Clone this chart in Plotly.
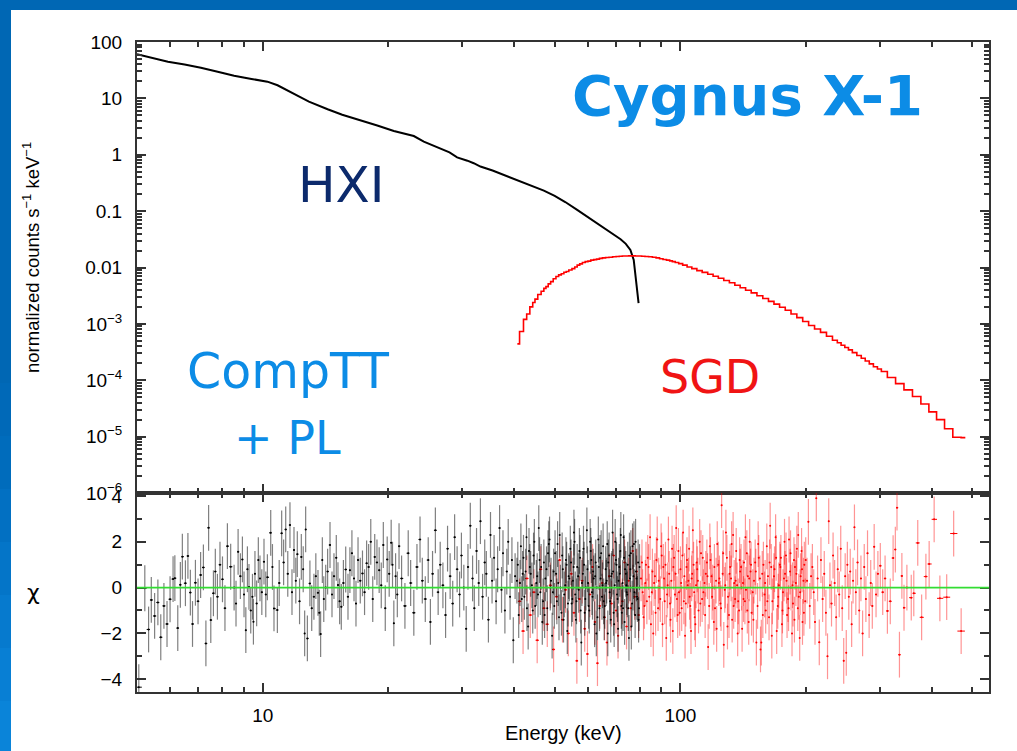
import numpy as np
import plotly.graph_objects as go
from plotly.subplots import make_subplots

W, H = 1017, 751

# ---- folded model spectra (keV, normalized counts s^-1 keV^-1) ----
hxi_energy = [5.0, 5.5, 5.93, 6.5, 7.11, 7.8, 8.54, 9.4, 10.26, 10.85,
              11.3, 11.67, 12.3, 12.9, 13.6, 14.3, 15.5, 17.1, 18.8, 20.6,
              21.8, 23.0, 24.3, 25.5, 26.7, 28.0, 29.2, 30.0, 30.9, 32.0,
              33.2, 35.5, 37.8, 39.5, 41.4, 44.0, 47.1, 50.0, 53.0, 56.6,
              60.5, 64.5, 68.0, 71.9, 74.0, 75.9, 77.3, 78.0, 79.4]
hxi_counts = [60.5, 51.5, 44.8, 39.8, 35.0, 29.6, 25.2, 22.1, 19.8, 17.1,
              14.5, 12.6, 10.5, 8.75, 7.41, 6.41, 5.13, 4.14, 3.31, 2.64,
              2.34, 2.15, 1.71, 1.48, 1.30, 1.10, 0.90, 0.83, 0.785, 0.708,
              0.617, 0.525, 0.439, 0.389, 0.333, 0.282, 0.231, 0.186, 0.145, 0.105,
              0.0759, 0.0547, 0.0427, 0.0317, 0.0263, 0.0205, 0.0136, 0.0069, 0.00233]

sgd_energy = [40.7, 41.7, 42.5, 43.2, 44.0, 44.6, 45.1, 46.0, 46.8, 47.4,
              47.9, 48.6, 49.2, 50.0, 50.7, 51.5, 52.2, 53.0, 53.6, 54.5,
              55.5, 56.2, 57.0, 57.8, 58.7, 59.6, 60.5, 61.5, 62.5, 63.5,
              64.5, 65.6, 66.8, 68.1, 69.5, 70.8, 72.0, 73.2, 74.5, 75.9,
              77.3, 78.6, 80.0, 81.5, 83.0, 84.8, 86.6, 88.3, 90.0, 91.7,
              93.5, 95.0, 96.3, 98.1, 100, 102.5, 105, 108, 111, 114.5,
              118, 121.5, 125, 129, 133, 137, 141, 145.5, 150, 155,
              160, 165, 170, 175.5, 181, 187, 193, 199.5, 206, 213,
              220, 227.5, 235, 240, 245, 250, 255, 261, 268, 274,
              280, 286.5, 293, 299.5, 306, 320, 335, 351, 368, 385,
              402, 419, 439, 459, 481]
sgd_counts = [4.42e-4, 7.31e-4, 1.20e-3, 1.50e-3, 2.00e-3, 2.40e-3, 2.75e-3, 3.31e-3, 3.80e-3, 4.27e-3,
              4.57e-3, 5.13e-3, 5.62e-3, 6.31e-3, 6.92e-3, 7.41e-3, 7.76e-3, 8.22e-3, 8.51e-3, 9.02e-3,
              9.55e-3, 1.02e-2, 1.10e-2, 1.16e-2, 1.23e-2, 1.27e-2, 1.30e-2, 1.35e-2, 1.38e-2, 1.41e-2,
              1.45e-2, 1.48e-2, 1.50e-2, 1.52e-2, 1.55e-2, 1.57e-2, 1.58e-2, 1.60e-2, 1.60e-2, 1.61e-2,
              1.61e-2, 1.60e-2, 1.60e-2, 1.58e-2, 1.57e-2, 1.55e-2, 1.52e-2, 1.48e-2, 1.43e-2, 1.39e-2,
              1.35e-2, 1.31e-2, 1.27e-2, 1.23e-2, 1.17e-2, 1.10e-2, 1.02e-2, 9.55e-3, 8.81e-3, 8.18e-3,
              7.59e-3, 7.00e-3, 6.46e-3, 5.89e-3, 5.37e-3, 4.84e-3, 4.37e-3, 3.94e-3, 3.55e-3, 3.16e-3,
              2.82e-3, 2.51e-3, 2.24e-3, 1.97e-3, 1.74e-3, 1.50e-3, 1.29e-3, 1.10e-3, 9.33e-4, 8.13e-4,
              7.08e-4, 6.03e-4, 5.13e-4, 4.62e-4, 4.17e-4, 3.80e-4, 3.46e-4, 3.09e-4, 2.75e-4, 2.45e-4,
              2.19e-4, 1.95e-4, 1.74e-4, 1.58e-4, 1.43e-4, 1.12e-4, 8.71e-5, 6.76e-5, 5.14e-5, 3.80e-5,
              2.75e-5, 2.00e-5, 1.38e-5, 9.77e-6, 9.6e-6]

# ---- residuals (keV, chi) ----
hxi_resid = [
    (5.05, -4.35), (5.22, -0.03), (5.33, -1.83), (5.41, -0.54), (5.51, -1.24), (5.61, -0.65),
    (5.70, -2.17), (5.80, -0.80), (5.90, -1.59), (6.00, -0.51), (6.10, 0.37), (6.16, 0.41),
    (6.26, -1.77), (6.35, 0.12), (6.42, 1.35), (6.53, 0.19), (6.62, 1.38), (6.71, -0.22),
    (6.79, -1.59), (6.90, 0.21), (7.00, -0.60), (7.10, 0.55), (7.21, 0.88), (7.31, -2.44),
    (7.42, 2.61), (7.51, -1.42), (7.62, -0.25), (7.70, 0.70), (7.79, -0.40), (7.90, 1.00),
    (8.01, 0.36), (8.12, -0.90), (8.23, 1.81), (8.38, 0.91), (8.54, 0.00), (8.63, -0.70),
    (8.73, 1.56), (8.84, 0.50), (8.94, 1.23), (9.02, -0.30), (9.11, -1.86), (9.19, 0.80),
    (9.27, 0.03), (9.36, -1.00), (9.45, -0.40), (9.50, -1.49), (9.58, 0.60), (9.67, -0.69),
    (9.76, 1.20), (9.85, 0.40), (9.95, -0.20),
    (10.07, 1.13), (10.17, -0.30), (10.26, 0.45), (10.45, 2.39), (10.55, 0.90), (10.64, -0.91),
    (10.84, -0.98), (10.95, 0.20), (11.10, 2.37), (11.22, 1.10), (11.35, 2.54), (11.48, 0.60),
    (11.62, 2.73), (11.75, -0.20), (11.88, 1.64), (12.00, 0.30), (12.10, 1.46), (12.25, -0.60),
    (12.37, 1.34), (12.50, 0.80), (12.60, -2.00), (12.67, 2.54), (12.79, -2.22), (12.97, 0.18),
    (13.10, -0.90), (13.26, -0.40), (13.40, 0.50), (13.56, -0.23), (13.66, -1.10), (13.76, -2.03),
    (13.89, 1.20), (14.00, -0.50), (14.15, 0.00), (14.30, 0.70), (14.49, 1.86), (14.65, -0.30),
    (14.81, 0.50), (15.00, 1.30), (15.14, 0.11), (15.28, -0.60), (15.42, -0.84), (15.60, 0.20),
    (15.80, 0.79), (16.00, -0.40), (16.17, 0.76), (16.35, 1.50), (16.54, 0.40), (16.72, -0.70),
    (16.91, 1.20), (17.12, 0.30), (17.33, 0.62), (17.53, -0.20), (17.73, 1.06), (17.93, 0.90),
    (18.14, 2.00), (18.34, -0.50), (18.54, 1.34), (18.77, 1.10), (19.00, 0.76), (19.22, 0.10),
    (19.44, 1.86), (19.65, -0.90), (19.86, 1.23), (20.08, 0.60), (20.30, 1.96), (20.45, 1.00),
    (20.60, -1.56), (20.80, 0.50), (21.00, -0.30), (21.20, 1.81),
    (21.5, 0.4), (21.9, -0.8), (22.3, 1.5), (22.6, 0.2), (23.0, -1.1), (23.4, 0.9), (23.8, 2.1),
    (24.1, 0.3), (24.5, -0.5), (24.9, 1.2), (25.2, -1.5), (25.5, 0.6), (25.9, 2.5), (26.3, -0.2),
    (26.6, 1.0), (27.0, 0.1), (27.4, -1.2), (27.7, 1.7), (28.1, 0.5), (28.5, -0.7), (28.8, 2.2),
    (29.2, 0.8), (29.6, -0.3), (29.9, 1.4), (30.3, 0.0), (30.7, -1.8), (31.0, 0.9), (31.4, 2.7),
    (31.8, 0.4), (32.1, -0.9), (32.5, 1.6), (32.9, 0.2), (33.2, 2.9), (33.6, -0.4), (34.0, 1.1),
    (34.3, 0.6), (34.7, -1.4), (35.1, 2.3), (35.4, 0.3), (35.8, 1.3), (36.2, -0.6), (36.5, 0.8),
    (36.9, 2.6), (37.3, -0.1), (37.6, 1.5), (38.0, -1.0), (38.4, 0.7), (38.7, 2.0), (39.1, -0.4),
    (39.5, 1.2), (39.8, -2.3), (40.2, 0.5),
    (40.6, 0.3), (41.0, -1.2), (41.5, 1.8), (41.9, 0.6), (42.3, -0.4), (42.8, 2.2), (43.2, -1.7),
    (43.6, 0.9), (44.1, 0.1), (44.5, 1.4), (44.9, -0.8), (45.4, 0.5), (45.8, 2.6), (46.2, -0.2),
    (46.7, -1.5), (47.1, 1.1), (47.5, 0.4), (48.0, -0.9), (48.4, 1.9), (48.8, 0.0), (49.3, -2.1),
    (49.7, 0.7), (50.1, 1.5), (50.6, -0.6), (51.0, 0.2), (51.4, 2.3), (51.9, -1.1), (52.3, 0.8),
    (52.7, -0.3), (53.2, 1.2), (53.6, -1.9), (54.0, 0.5), (54.5, 1.7), (54.9, -0.7), (55.3, 0.3),
    (55.8, 2.0), (56.2, -1.4), (56.6, 0.9), (57.1, -0.1), (57.5, 1.3), (57.9, -2.4), (58.4, 0.6),
    (58.8, 1.0), (59.2, -0.5), (59.7, 2.5), (60.1, 0.2), (60.5, -1.0), (61.0, 1.6), (61.4, -0.2),
    (61.8, 0.7), (62.3, -1.6), (62.7, 1.1), (63.1, 0.0), (63.6, 2.1), (64.0, -0.9), (64.4, 0.4),
    (64.9, -0.4), (65.3, 1.8), (65.7, -1.3), (66.2, 0.8), (66.6, 0.3), (67.0, -2.0), (67.5, 1.4),
    (67.9, -0.6), (68.3, 0.5), (68.8, 2.4), (69.2, -1.1), (69.6, 0.1), (70.1, 1.2), (70.5, -0.3),
    (70.9, -1.8), (71.4, 0.9), (71.8, 1.6), (72.2, -0.8), (72.7, 0.2), (73.1, 2.2), (73.5, -1.5),
    (74.0, 0.6), (74.4, -0.2), (74.8, 1.0), (75.3, -2.2), (75.7, 0.4), (76.1, 1.5), (76.6, -0.7),
    (77.0, 0.0), (77.4, 1.9), (77.9, -1.2), (78.3, 0.7), (78.7, -0.4), (79.2, 1.1), (79.6, -0.9),
    (41.3, 0.2), (42.1, 1.3), (42.9, -0.9), (43.8, 0.6), (44.7, 2.0), (45.6, -0.3), (46.4, 0.9),
    (47.3, -1.2), (48.2, 1.5), (49.0, 0.3), (49.9, -0.8), (50.8, 1.9), (51.6, 0.0), (52.5, -1.4),
    (53.4, 1.0), (54.2, 0.4), (55.1, -0.5), (55.5, 0.9), (56.4, -0.6), (57.3, 1.6), (58.1, 0.2),
    (59.0, -1.1), (59.9, 0.8), (60.8, 2.0), (61.6, -0.4), (62.5, 0.5), (63.3, -1.3), (64.2, 1.3),
    (65.1, 0.1), (65.9, -0.8), (66.8, 1.9), (67.7, -0.2), (68.5, 0.6), (69.4, -1.6), (70.3, 1.0),
    (71.1, 0.3), (72.0, 2.3), (72.9, -0.9), (73.7, 0.8), (74.6, -0.3), (75.5, 1.4), (76.3, -1.7),
    (77.2, 0.5), (78.1, 2.0), (78.9, -0.5), (79.8, 0.9),
    (40.8, 1.0), (41.7, -0.5), (42.6, 0.7), (43.4, 1.6), (44.3, -1.0), (45.2, 0.2), (46.0, 1.2),
    (46.9, -0.6), (47.8, 0.8), (48.6, 2.1), (49.5, -0.2), (50.4, 0.6), (51.2, -1.3), (52.1, 1.4),
    (53.0, 0.1), (53.8, -0.7), (54.7, 1.1), (55.6, 2.4), (56.0, -0.3), (56.9, 0.5), (57.7, -1.0),
    (58.6, 1.7), (59.4, 0.0), (60.3, -0.8), (61.2, 1.2), (62.0, 0.4), (62.9, -2.0), (63.8, 0.9),
    (64.6, 1.5), (65.5, -0.6), (66.4, 0.2), (67.2, 1.1), (68.1, -1.4), (69.0, 0.7), (69.8, 2.0),
    (70.7, -0.5), (71.6, 0.6), (72.4, -1.1), (73.3, 1.3), (74.2, 0.1), (75.0, -0.9), (75.9, 0.8),
    (76.8, 1.8), (77.6, -0.2), (78.5, 0.4), (79.4, -1.4),
]

sgd_resid = [
    (41.2, -0.6), (42.0, -1.9), (42.9, 0.4), (43.7, -1.2), (44.6, -0.2), (45.4, -2.3), (46.3, 0.8),
    (47.1, -0.9), (48.0, -1.6), (48.8, 0.1), (49.7, -2.7), (50.5, -0.4), (51.4, 1.2), (52.2, -1.4),
    (53.1, -0.1), (53.9, -2.0), (54.8, 0.6), (55.6, -1.1), (56.5, -3.2), (57.3, -0.5), (58.2, 0.3),
    (59.0, -1.8), (59.9, -2.9), (60.7, -0.3), (61.6, 0.9), (62.4, -1.5), (63.3, -3.3), (64.1, -0.8),
    (65.0, 0.2), (65.8, -1.3), (66.7, -2.4), (67.5, 0.5), (68.4, -0.7), (69.2, 1.4), (70.1, -1.0),
    (70.9, -2.1), (71.8, 0.0), (72.6, -0.6), (73.5, 1.1), (74.3, -1.7), (75.2, 0.3), (76.0, -0.9),
    (76.9, 1.6), (77.7, -0.4), (78.6, 0.7), (79.4, -1.2),
    (80.5, 0.4), (81.2, -0.2), (82.0, -0.8), (82.7, 1.0), (83.5, 1.3), (84.2, -0.4), (85.0, -1.6),
    (85.7, 0.7), (86.5, 0.2), (87.2, -1.1), (88.0, 2.1), (88.7, 0.3), (89.5, -0.5), (90.2, 1.4),
    (91.0, 0.9), (91.7, -0.6), (92.5, -2.2), (93.2, 0.1), (94.0, 0.6), (94.7, -1.4), (95.5, 1.7),
    (96.2, 0.9), (97.0, -0.3), (97.7, 2.6), (98.5, -1.2), (99.2, -0.2), (100.0, 0.8), (100.7, -0.9),
    (101.5, 2.4), (102.2, 0.5), (103.0, -0.7), (103.7, 1.2), (104.5, 0.3), (105.2, -0.4), (106.0, -1.9),
    (106.7, 0.6), (107.5, 1.0), (108.2, -1.3), (109.0, 0.1), (109.7, 0.8), (110.5, -1.0), (111.2, 2.0),
    (112.0, 1.5), (112.7, -0.5), (113.5, -0.2), (114.2, 0.2), (115.0, 0.6), (115.7, 1.1), (116.5, -2.6),
    (117.2, -0.8), (118.0, 1.2), (118.7, 0.5), (119.5, 0.0), (120.2, -1.5), (121.0, -0.9), (121.7, 0.3),
    (122.5, 1.9), (123.2, 1.0), (124.0, 0.4), (124.7, -0.7), (125.5, 3.6), (126.2, 0.6), (127.0, -2.5),
    (127.7, -0.1), (128.5, 2.4), (129.2, 1.3), (130.0, -0.4), (130.7, -1.2), (131.5, 0.9), (132.2, 0.4),
    (133.0, -1.4), (133.7, 2.3), (134.5, 0.2), (135.2, -0.5), (136.0, 1.6), (136.7, 0.1), (137.5, -0.6),
    (138.2, -1.0), (139.0, 0.7), (139.7, 0.9), (140.5, -1.8), (141.2, 0.2), (142.0, 1.1), (142.7, -0.6),
    (143.5, -0.1), (144.2, 1.5), (145.0, 0.5), (145.7, -1.5), (146.5, 2.0), (147.2, 0.7), (148.0, -1.1),
    (149.0, -0.2), (150.0, 0.3), (151.0, 1.1), (152.0, -2.4), (153.0, -0.8), (154.0, 1.3), (155.0, 0.4),
    (155.5, -2.7), (156.2, -2.4), (157.0, 0.6), (158.0, 1.0), (159.0, -0.3), (160.0, -1.0), (161.0, 1.8),
    (162.0, 0.5), (163.0, -1.3), (164.0, 2.7), (165.0, 0.9), (166.0, -0.6), (167.0, 0.0), (168.0, 0.8),
    (169.0, 2.2), (170.0, -1.9), (171.0, -0.8), (172.0, 0.1), (173.0, 1.0), (174.0, 1.3), (175.0, -1.6),
    (176.0, -0.2), (177.0, 0.4), (178.0, 0.6), (179.0, 1.4), (180.0, -1.2), (181.0, -0.5), (182.0, 2.1),
    (183.0, 0.7), (184.0, 0.0), (185.0, -2.0), (186.0, -0.7), (187.0, 1.2), (188.0, 0.9), (189.0, 0.2),
    (190.0, 1.7), (191.0, -0.9), (192.0, -0.4), (193.0, -2.2), (194.0, 0.5), (195.0, 1.6), (196.0, -1.5),
    (197.0, 0.3), (198.0, 1.0), (199.0, -0.6),
    (80.9, 1.1), (81.6, -1.3), (82.4, 0.2), (83.1, -0.6), (83.9, 0.9), (84.6, 2.2), (85.4, -0.2),
    (86.1, -2.0), (86.9, 0.5), (87.6, 1.2), (88.4, -0.9), (89.1, 0.0), (89.9, 1.8), (90.6, -1.6),
    (91.4, 0.4), (92.1, 1.0), (92.9, -0.3), (93.6, 2.1), (94.4, -0.7), (95.1, 0.3), (95.9, -1.9),
    (96.6, 1.3), (97.4, 0.6), (98.1, -0.5), (98.9, 1.6), (99.6, -1.1), (100.4, 0.2), (101.1, 1.4),
    (101.9, -0.6), (102.6, -2.1), (103.4, 0.9), (104.1, 0.1), (104.9, 1.7), (105.6, -0.8), (106.4, 0.4),
    (107.1, 2.5), (107.9, -0.2), (108.6, -1.6), (109.4, 1.1), (110.1, 0.3), (111.6, -0.7), (113.1, 1.3),
    (114.6, -1.2), (116.1, 0.5), (117.6, 1.8), (119.1, -0.4), (120.6, 0.9), (122.1, -1.8), (123.6, 0.2),
    (125.1, -0.9), (126.6, 1.5), (128.1, 0.1), (129.6, -1.7), (131.1, 0.6), (132.6, 1.9), (134.1, -0.8),
    (135.6, 0.3), (137.1, -2.0), (138.6, 1.2), (140.1, 0.0), (141.6, -0.5), (143.1, 2.2), (144.6, -1.0),
    (146.1, 0.4), (147.6, 1.0), (149.5, -1.4), (151.5, 0.7), (153.5, 1.9), (157.5, -1.2), (159.5, 0.2),
    (161.5, -0.6), (163.5, 1.1), (165.5, -2.1), (167.5, 0.5), (169.5, 1.3), (171.5, -0.4), (173.5, 0.9),
    (175.5, -1.0), (177.5, 2.0), (179.5, 0.3), (181.5, -0.9), (183.5, 1.5), (185.5, 0.1), (187.5, -1.4),
    (189.5, 0.6), (191.5, 2.3), (193.5, -0.2), (195.5, 0.8), (197.5, -1.1), (199.5, 1.2),
    (201, 0.3), (202.5, 2.87), (204, -0.8), (205.5, 0.5), (207, 0.9), (208.5, -0.2), (210, -1.5),
    (211.5, 3.9), (213, 0.4), (215, -2.39), (217, 1.2), (219, -0.5), (221, 0.6), (223, -1.1),
    (225, -3.0), (226.5, 2.9), (228, 0.1), (230, -0.7), (232, 1.4), (234, 0.2), (236, -1.3),
    (238, 0.8), (240, -0.3), (242, 1.7), (244, -0.9), (246, -3.2), (248, 0.5), (249.5, -2.85),
    (251, 1.0), (253, -0.4), (255, 0.7), (257, -1.6), (259, 0.3), (261, 2.63), (263, -0.2),
    (265.5, 1.1), (268, -1.0), (270.5, 0.4), (273, -2.0), (275.5, 0.9), (278, -0.5), (280.5, 1.5),
    (283, -1.2), (285.5, 0.2), (288, -0.8), (291, 1.78), (294, -0.3), (297, 0.6),
    (301, 0.95), (305, -0.2), (309, 0.4), (313, -1.02), (318, -0.6), (323, 1.29), (327, 1.66),
    (330, 3.49), (334.5, -2.93), (339, 0.51), (343, -0.88), (348.5, 0.0), (357, -0.44), (362, -0.25),
    (370, 1.95), (378, -1.3), (387, 0.48), (394, 1.03), (405, 2.98), (418, -0.47), (434, -0.42),
    (451, 2.36), (470, -1.9),
]

# tick layout
x_major = [10, 100]
x_minor = [6, 7, 8, 9, 20, 30, 40, 50, 60, 70, 80, 90, 200, 300, 400, 500]
y_major = [1e-6, 1e-5, 1e-4, 1e-3, 0.01, 0.1, 1, 10, 100]
y_major_text = ["10<sup>\u22126</sup>", "10<sup>\u22125</sup>", "10<sup>\u22124</sup>",
                "10<sup>\u22123</sup>", "0.01", "0.1", "1", "10", "100"]
chi_major = [-4, -2, 0, 2, 4]
chi_major_text = ["\u22124", "\u22122", "0", "2", "4"]
chi_minor = [-3, -1, 1, 3]


def px(x):
    return x / W


def py(y):
    return 1 - y / H


def bin_halfwidths(e):
    """Upper/lower half widths of contiguous bins centred on e (log midpoints)."""
    e = np.asarray(e, dtype=float)
    mid = np.sqrt(e[1:] * e[:-1])
    lo = np.concatenate([[e[0] ** 2 / mid[0]], mid])
    hi = np.concatenate([mid, [e[-1] ** 2 / mid[-1]]])
    return hi - e, e - lo


fig = make_subplots(rows=2, cols=1, shared_xaxes=True, vertical_spacing=0)

# spectra
fig.add_trace(go.Scatter(x=hxi_energy, y=hxi_counts, mode="lines",
                         line=dict(color="black", width=2), hoverinfo="skip"),
              row=1, col=1)
fig.add_trace(go.Scatter(x=sgd_energy, y=sgd_counts, mode="lines",
                         line=dict(color="#ff0000", width=1.6, shape="hvh"), hoverinfo="skip"),
              row=1, col=1)

# residuals
for resid, mcol, ecol, thick in [(sgd_resid, "#ff0000", "rgba(255,0,0,0.42)", 1.2),
                                 (hxi_resid, "#000000", "rgba(0,0,0,0.5)", 1.2)]:
    pts = sorted(resid)
    e = np.array([p[0] for p in pts])
    chi = np.array([p[1] for p in pts])
    up, dn = bin_halfwidths(e)
    fig.add_trace(go.Scatter(
        x=e, y=chi, mode="markers",
        marker=dict(size=2, color=mcol),
        error_y=dict(type="constant", value=1.0, color=ecol, thickness=thick, width=0),
        error_x=dict(type="data", symmetric=False, array=up, arrayminus=dn,
                     color=mcol, thickness=1, width=0),
        hoverinfo="skip"), row=2, col=1)

axis_font = dict(family="Liberation Sans, Arial, sans-serif", size=19, color="black")
common = dict(showline=True, linecolor="#333333", linewidth=2, mirror="ticks",
              ticks="inside", tickcolor="#333333", tickwidth=1.5, ticklen=9,
              showgrid=False, zeroline=False, tickfont=axis_font, automargin=False)

fig.update_xaxes(type="log", range=[np.log10(5.0), np.log10(548)],
                 domain=[px(137), px(989)], tickmode="array",
                 tickvals=x_major, ticktext=[str(v) for v in x_major],
                 minor=dict(ticks="inside", ticklen=5, tickcolor="#333333", tickwidth=1.5,
                            tickmode="array", tickvals=x_minor),
                 ticklabelstandoff=5, **common)
fig.update_xaxes(showticklabels=False, row=1, col=1)

fig.update_yaxes(type="log", range=[-6, 2], domain=[py(493), py(42)],
                 tickmode="array", tickvals=y_major, ticktext=y_major_text,
                 minor=dict(ticks="inside", ticklen=5, tickcolor="#333333", tickwidth=1.5,
                            tickmode="array",
                            tickvals=[k * 10.0 ** d for d in range(-6, 2) for k in range(2, 10)]),
                 ticklabelstandoff=9, row=1, col=1, **common)
fig.update_yaxes(range=[-4.56, 4.13], domain=[py(692), py(493)],
                 tickmode="array", tickvals=chi_major, ticktext=chi_major_text,
                 minor=dict(ticks="inside", ticklen=5, tickcolor="#333333", tickwidth=1.5,
                            tickmode="array", tickvals=chi_minor),
                 ticklabelstandoff=9, row=2, col=1, **common)

shapes = []
# slide background: white panel framed by blue
shapes.append(dict(type="rect", xref="paper", yref="paper", x0=px(11), x1=1.01, y0=-0.01, y1=py(10),
                   fillcolor="white", line=dict(width=0), layer="below"))
left_strip = ["#0067b4", "#0069b8", "#006cbc", "#0270c2", "#0475c8", "#067ace", "#087fd4", "#0a84d9"]
for i, c in enumerate(left_strip):
    y0 = 330 + i * 53
    shapes.append(dict(type="rect", xref="paper", yref="paper", x0=0, x1=px(11),
                       y0=py(min(y0 + 53, H)), y1=py(y0), fillcolor=c, line=dict(width=0),
                       layer="below"))
# chi = 0 reference line
shapes.append(dict(type="line", xref="x2 domain", yref="y2", x0=0, x1=1, y0=0, y1=0,
                   line=dict(color="#33dd33", width=1.6), layer="above"))

label_font = "Liberation Sans, Arial, sans-serif"
annotations = [
    dict(text="normalized counts s<sup>\u22121</sup> keV<sup>\u22121</sup>", x=px(31), y=py(258),
         textangle=-90, font=dict(family=label_font, size=18.5, color="black")),
    dict(text="\u03c7", x=px(33), y=py(592),
         font=dict(family="DejaVu Sans", size=22, color="black")),
    dict(text="Energy (keV)", x=px(563), y=py(733),
         font=dict(family=label_font, size=20, color="black")),
    dict(text="<b>Cygnus X-1</b>", x=px(747), y=py(95),
         font=dict(family="DejaVu Sans", size=56, color="#0c8ce6")),
    dict(text="HXI", x=px(341), y=py(185),
         font=dict(family="DejaVu Sans", size=50, color="#0c2a6c")),
    dict(text="CompTT", x=px(288), y=py(371),
         font=dict(family="DejaVu Sans", size=49, color="#0c8ce6")),
    dict(text="+ PL", x=px(287), y=py(438),
         font=dict(family="DejaVu Sans", size=46, color="#0c8ce6")),
    dict(text="SGD", x=px(710), y=py(377),
         font=dict(family="DejaVu Sans", size=46, color="#f01414")),
]
for a in annotations:
    a.update(xref="paper", yref="paper", showarrow=False, xanchor="center", yanchor="middle")

fig.update_layout(width=W, height=H, autosize=False,
                  margin=dict(l=0, r=0, t=0, b=0, pad=0),
                  paper_bgcolor="#0067b4", plot_bgcolor="rgba(0,0,0,0)",
                  showlegend=False, shapes=shapes, annotations=annotations)

fig.write_html("out.html", config={"displayModeBar": False})
